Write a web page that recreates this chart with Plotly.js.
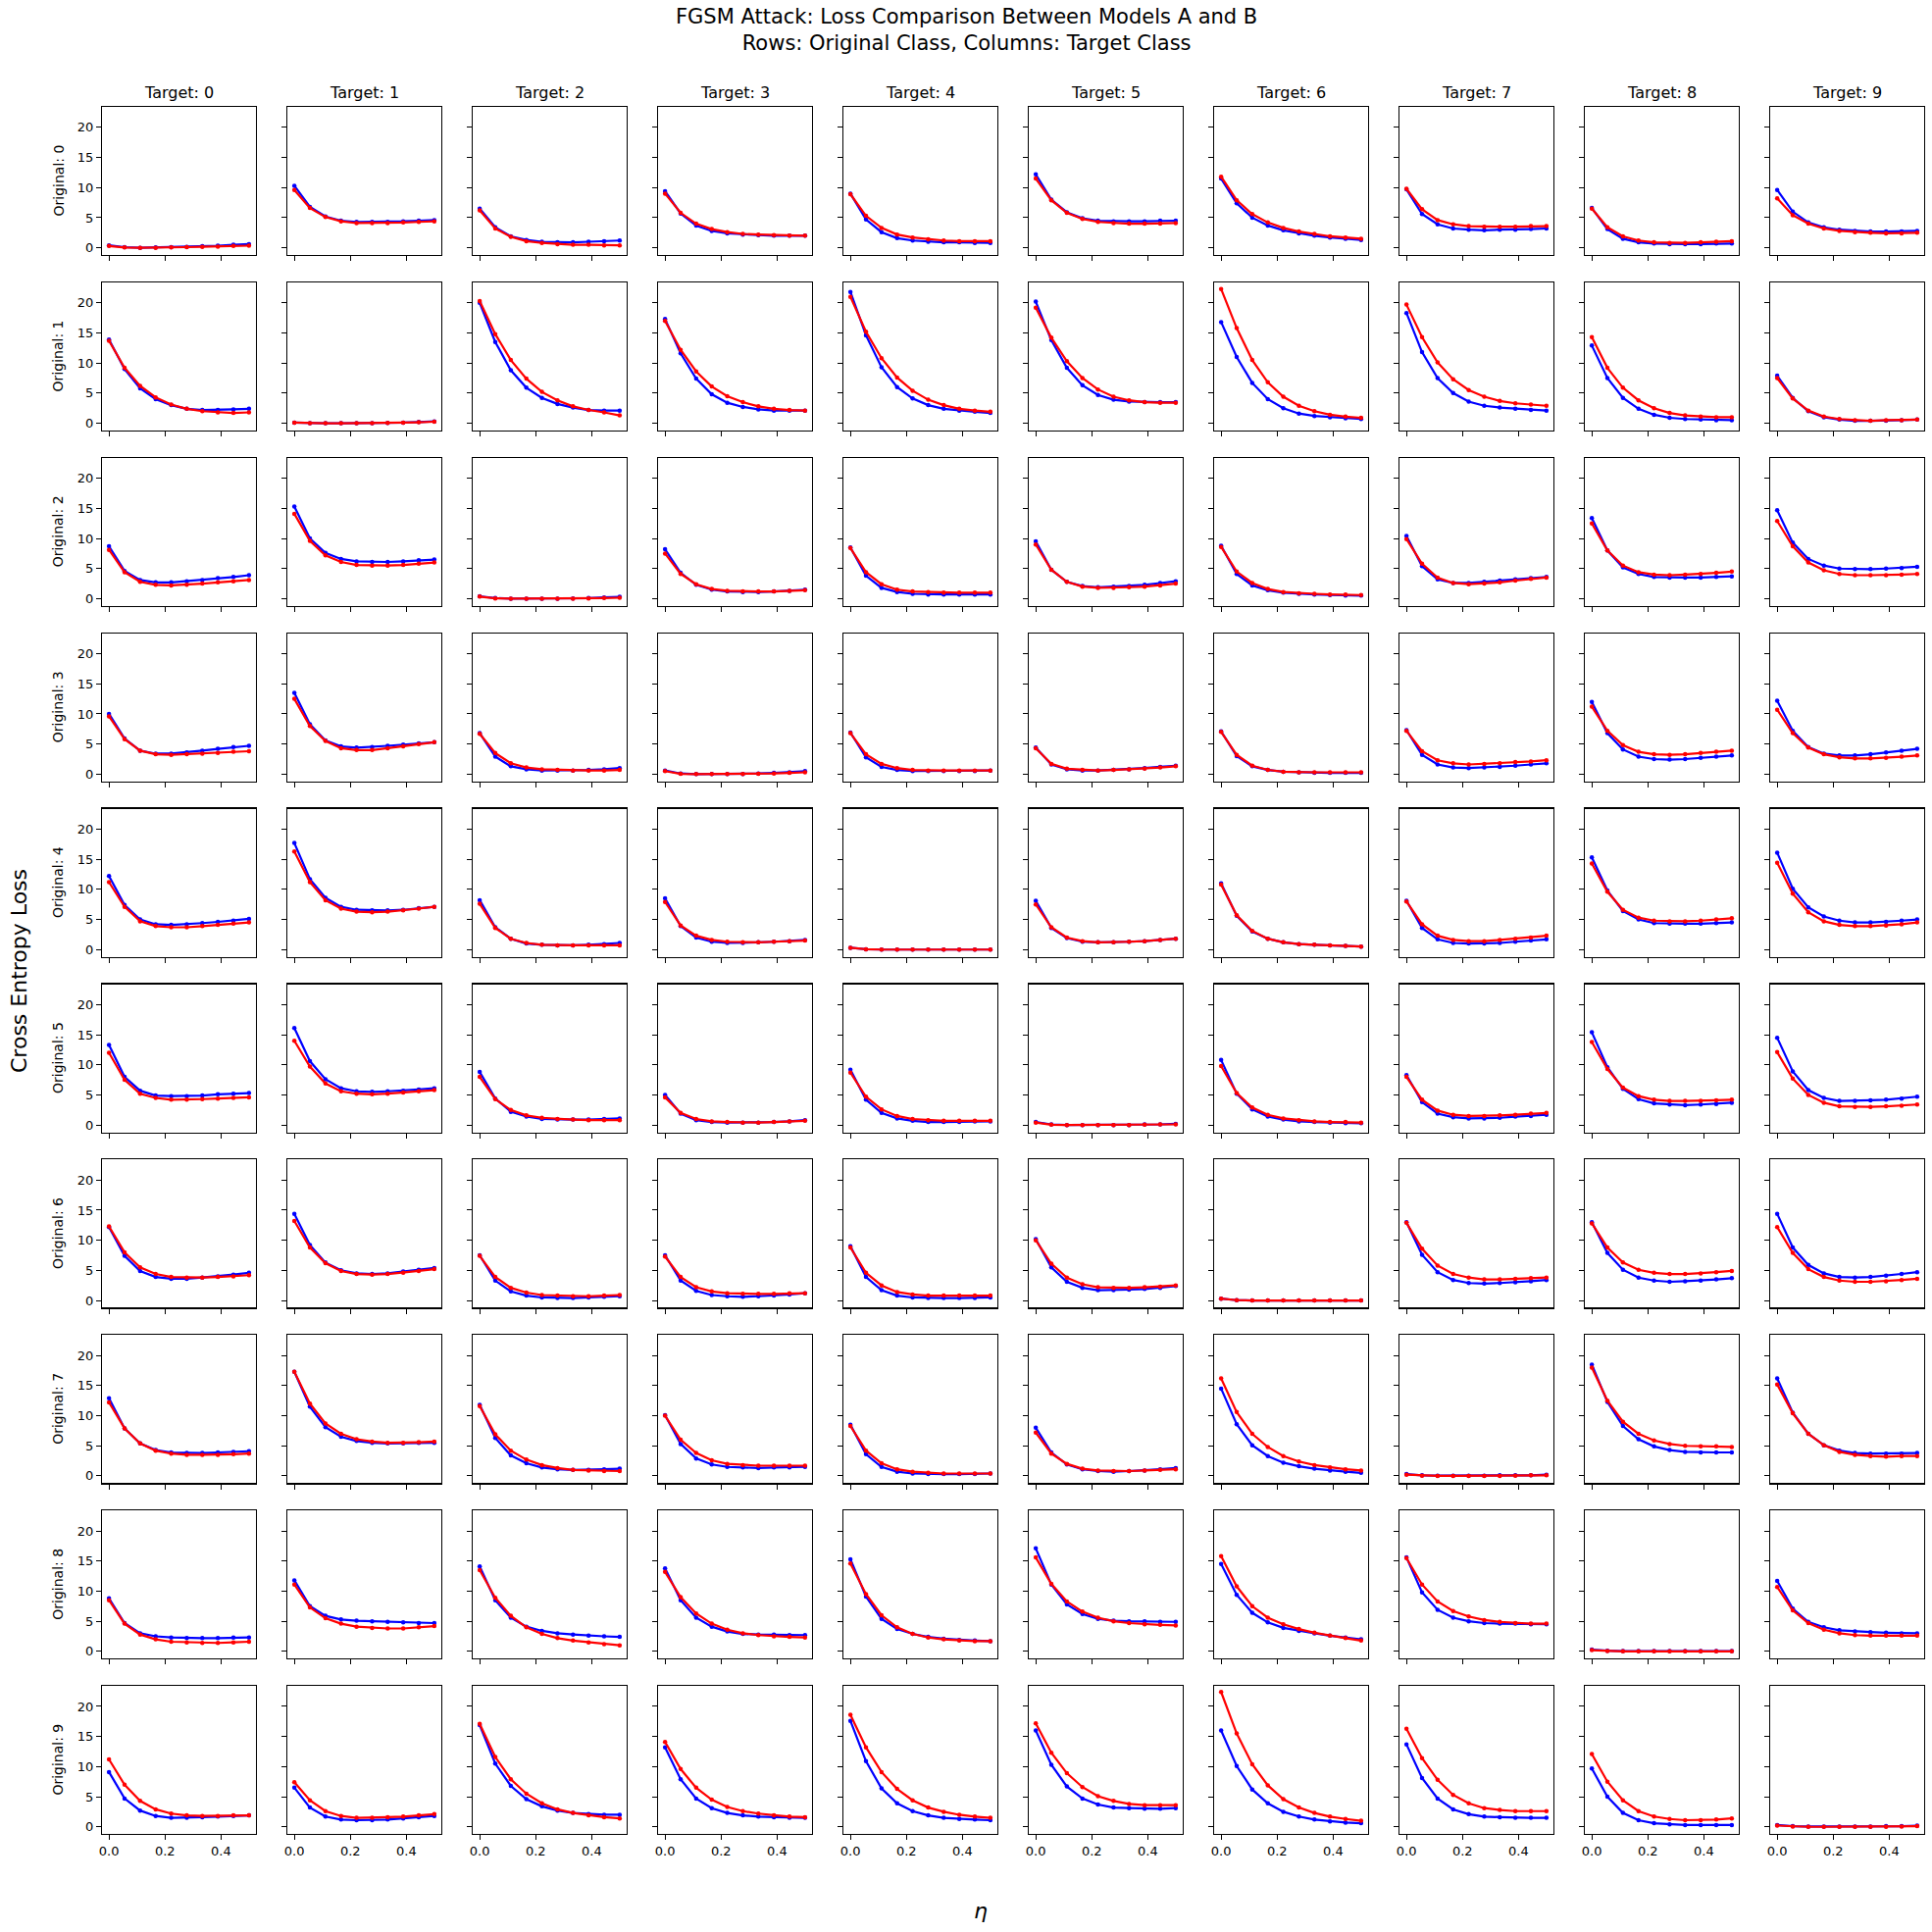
<!DOCTYPE html>
<html><head><meta charset="utf-8">
<script src="https://cdn.plot.ly/plotly-3.0.1.min.js"></script>
<style>body{margin:0;background:#fff}</style></head>
<body><div id="chart" style="width:1970px;height:1970px"></div>
<script>
const eta=[0,0.0556,0.1111,0.1667,0.2222,0.2778,0.3333,0.3889,0.4444,0.5];
const classes=[0,1,2,3,4,5,6,7,8,9];
// Model A (blue) losses, one array per original class, each with 10 target classes
const modelA_orig0=[[0.4,0.1,0,0.05,0.1,0.15,0.25,0.35,0.5,0.6],[10.3,6.8,5.2,4.5,4.3,4.3,4.3,4.4,4.5,4.6],[6.5,3.4,1.9,1.3,1.0,0.9,0.9,1.0,1.1,1.2],[9.4,5.7,3.7,2.8,2.4,2.2,2.1,2.0,2.0,2.0],[9.0,4.7,2.6,1.6,1.2,1.0,0.9,0.9,0.8,0.8],[12.2,8.0,5.9,4.9,4.5,4.4,4.4,4.4,4.5,4.5],[11.5,7.4,5.0,3.7,2.9,2.4,2.0,1.7,1.5,1.3],[9.7,5.6,3.9,3.2,3.0,2.9,3.0,3.0,3.1,3.2],[6.6,3.1,1.5,0.9,0.7,0.6,0.6,0.6,0.7,0.7],[9.6,6.0,4.2,3.4,3.0,2.8,2.7,2.7,2.7,2.8]];
const modelB_orig0=[[0.3,0.05,0,0,0.05,0.1,0.15,0.2,0.3,0.35],[9.6,6.6,5.1,4.4,4.1,4.1,4.1,4.2,4.3,4.4],[6.2,3.2,1.8,1.1,0.8,0.6,0.5,0.5,0.4,0.4],[9.0,5.8,4.0,3.1,2.6,2.3,2.2,2.1,2.0,2.0],[8.9,5.3,3.3,2.2,1.7,1.4,1.2,1.1,1.1,1.1],[11.5,7.9,5.8,4.8,4.3,4.1,4.0,4.0,4.0,4.1],[11.8,7.9,5.6,4.2,3.3,2.7,2.3,1.9,1.7,1.5],[9.8,6.4,4.6,3.9,3.6,3.5,3.5,3.5,3.6,3.6],[6.5,3.4,1.9,1.2,0.9,0.8,0.8,0.9,1.0,1.1],[8.2,5.4,4.0,3.2,2.8,2.6,2.5,2.4,2.4,2.5]];
const modelA_orig1=[[13.9,9.0,5.8,4.0,3.0,2.4,2.2,2.2,2.3,2.4],[0.1,0,0,0,0,0,0.05,0.1,0.2,0.3],[20.0,13.5,8.8,5.9,4.2,3.2,2.6,2.2,2.1,2.1],[17.3,11.6,7.4,4.8,3.4,2.7,2.3,2.1,2.1,2.1],[21.8,14.6,9.3,6.0,4.1,3.0,2.4,2.1,1.9,1.7],[20.2,13.8,9.2,6.3,4.7,3.9,3.6,3.5,3.5,3.5],[16.8,11.0,6.7,4.0,2.5,1.6,1.2,1.0,0.8,0.7],[18.3,11.8,7.5,5.0,3.6,2.9,2.6,2.4,2.2,2.1],[12.9,7.5,4.2,2.4,1.4,0.9,0.7,0.6,0.5,0.5],[7.9,4.2,2.0,1.0,0.6,0.4,0.4,0.4,0.5,0.6]];
const modelB_orig1=[[13.7,9.2,6.2,4.3,3.1,2.4,2.0,1.8,1.7,1.8],[0.1,0,0,0,0,0,0.05,0.1,0.15,0.25],[20.3,14.8,10.5,7.4,5.2,3.8,2.8,2.2,1.8,1.3],[17.0,12.2,8.6,6.1,4.5,3.5,2.8,2.4,2.2,2.1],[21.0,15.2,10.8,7.6,5.4,3.9,3.0,2.4,2.1,1.9],[19.2,14.2,10.3,7.5,5.6,4.4,3.8,3.5,3.4,3.4],[22.3,15.8,10.5,6.8,4.4,2.9,2.0,1.4,1.1,0.9],[19.7,14.3,10.1,7.3,5.5,4.4,3.7,3.3,3.1,2.9],[14.3,9.2,5.9,3.8,2.5,1.7,1.3,1.1,1.0,1.0],[7.5,4.1,2.1,1.1,0.7,0.5,0.4,0.5,0.5,0.6]];
const modelA_orig2=[[8.7,4.6,3.1,2.7,2.7,2.9,3.1,3.4,3.6,3.9],[15.3,10.0,7.6,6.6,6.2,6.1,6.1,6.2,6.4,6.5],[0.4,0.1,0,0,0,0,0.05,0.1,0.2,0.3],[8.2,4.3,2.3,1.5,1.2,1.1,1.1,1.2,1.3,1.5],[8.5,3.8,1.8,1.1,0.8,0.7,0.7,0.7,0.7,0.7],[9.5,4.8,2.8,2.1,1.9,2.0,2.1,2.3,2.6,2.9],[8.8,4.1,2.2,1.4,1.0,0.8,0.7,0.6,0.5,0.5],[10.4,5.4,3.2,2.6,2.6,2.8,3.0,3.2,3.4,3.6],[13.4,8.0,5.2,4.1,3.6,3.5,3.5,3.5,3.6,3.7],[14.7,9.3,6.6,5.5,5.0,4.9,4.9,5.0,5.1,5.3]];
const modelB_orig2=[[8.1,4.4,2.8,2.3,2.2,2.3,2.5,2.7,2.9,3.1],[14.1,9.6,7.2,6.1,5.6,5.5,5.5,5.6,5.8,6.0],[0.35,0.05,0,0,0,0,0,0.05,0.1,0.15],[7.5,4.1,2.4,1.6,1.3,1.2,1.2,1.2,1.3,1.4],[8.4,4.4,2.4,1.5,1.2,1.1,1.0,1.0,1.0,1.0],[9.0,4.8,2.8,2.0,1.8,1.8,1.9,2.0,2.2,2.5],[8.6,4.5,2.6,1.6,1.1,0.9,0.8,0.7,0.7,0.6],[9.9,5.8,3.5,2.6,2.4,2.5,2.7,3.0,3.3,3.5],[12.5,8.0,5.5,4.4,4.0,3.9,4.0,4.1,4.3,4.5],[12.9,8.7,6.0,4.7,4.1,3.9,3.9,3.9,4.0,4.1]];
const modelA_orig3=[[10.0,5.9,3.9,3.4,3.4,3.6,3.9,4.2,4.5,4.7],[13.5,8.3,5.6,4.6,4.4,4.5,4.7,4.9,5.1,5.3],[6.8,2.9,1.3,0.8,0.6,0.6,0.6,0.7,0.8,1.0],[0.6,0.1,0,0,0,0,0.1,0.2,0.3,0.5],[6.9,2.8,1.2,0.7,0.5,0.5,0.5,0.5,0.5,0.6],[4.4,1.6,0.8,0.6,0.6,0.7,0.8,1.0,1.2,1.4],[7.1,3.0,1.3,0.7,0.4,0.3,0.2,0.2,0.2,0.2],[7.3,3.2,1.6,1.1,1.0,1.1,1.2,1.4,1.6,1.8],[12.0,6.8,4.1,2.9,2.5,2.4,2.5,2.7,2.9,3.1],[12.2,7.2,4.5,3.4,3.1,3.1,3.3,3.6,3.9,4.2]];
const modelB_orig3=[[9.6,5.8,3.9,3.3,3.2,3.3,3.4,3.5,3.7,3.8],[12.5,8.0,5.5,4.3,4.0,4.0,4.3,4.6,5.0,5.3],[6.7,3.5,1.8,1.1,0.8,0.7,0.6,0.6,0.6,0.7],[0.5,0.05,0,0,0,0,0.05,0.1,0.2,0.3],[6.8,3.3,1.7,1.0,0.7,0.6,0.6,0.6,0.6,0.6],[4.3,1.7,0.9,0.7,0.6,0.7,0.8,0.9,1.1,1.3],[7.0,3.2,1.4,0.7,0.4,0.3,0.3,0.3,0.3,0.3],[7.2,3.8,2.3,1.8,1.6,1.7,1.8,2.0,2.1,2.3],[11.2,7.2,4.8,3.7,3.3,3.2,3.3,3.5,3.7,3.9],[10.7,6.8,4.4,3.3,2.8,2.6,2.6,2.7,2.9,3.1]];
const modelA_orig4=[[12.2,7.4,5.0,4.2,4.1,4.2,4.4,4.6,4.8,5.1],[17.7,11.7,8.6,7.1,6.6,6.5,6.5,6.6,6.9,7.1],[8.2,3.7,1.8,1.0,0.8,0.7,0.7,0.8,0.9,1.1],[8.5,3.9,2.0,1.3,1.1,1.1,1.2,1.3,1.4,1.6],[0.3,0.05,0,0,0,0,0,0,0,0],[8.1,3.6,1.9,1.3,1.2,1.2,1.3,1.4,1.6,1.8],[11.0,5.6,3.0,1.8,1.2,0.9,0.8,0.7,0.6,0.5],[8.1,3.6,1.7,1.1,1.0,1.0,1.1,1.3,1.5,1.7],[15.3,9.8,6.4,5.0,4.4,4.3,4.3,4.3,4.4,4.5],[16.1,10.1,7.0,5.5,4.8,4.5,4.5,4.6,4.8,5.0]];
const modelB_orig4=[[11.2,7.1,4.7,3.9,3.7,3.7,3.9,4.1,4.3,4.5],[16.3,11.2,8.2,6.8,6.3,6.2,6.3,6.5,6.8,7.1],[7.6,3.6,1.8,1.1,0.8,0.7,0.7,0.7,0.7,0.7],[7.9,4.0,2.3,1.6,1.3,1.2,1.2,1.3,1.4,1.5],[0.3,0.05,0,0,0,0,0,0,0,0],[7.5,3.7,2.0,1.4,1.2,1.2,1.3,1.4,1.6,1.8],[10.8,5.7,3.1,1.8,1.2,0.9,0.8,0.7,0.6,0.5],[8.0,4.2,2.3,1.6,1.4,1.4,1.6,1.8,2.0,2.3],[14.3,9.6,6.6,5.3,4.8,4.7,4.7,4.8,5.0,5.2],[14.4,9.3,6.2,4.7,4.1,3.9,3.9,4.0,4.2,4.5]];
const modelA_orig5=[[13.3,8.0,5.7,4.9,4.8,4.8,4.9,5.1,5.2,5.3],[16.1,10.6,7.6,6.1,5.6,5.5,5.6,5.7,5.9,6.1],[8.8,4.4,2.2,1.4,1.0,0.9,0.9,0.9,1.0,1.1],[5.0,1.9,0.8,0.5,0.4,0.4,0.4,0.5,0.6,0.8],[9.2,4.2,2.0,1.1,0.7,0.5,0.5,0.5,0.6,0.6],[0.5,0.1,0,0,0,0,0,0.1,0.1,0.2],[10.8,5.2,2.6,1.4,0.9,0.6,0.5,0.4,0.3,0.3],[8.3,3.8,1.9,1.3,1.1,1.1,1.2,1.4,1.5,1.7],[15.4,9.6,6.0,4.3,3.6,3.4,3.3,3.4,3.5,3.7],[14.5,8.9,5.8,4.5,4.0,4.0,4.1,4.2,4.4,4.7]];
const modelB_orig5=[[12.0,7.5,5.2,4.5,4.2,4.2,4.3,4.4,4.5,4.6],[14.0,9.7,6.9,5.6,5.2,5.1,5.2,5.4,5.6,5.8],[8.0,4.3,2.5,1.6,1.2,1.0,0.9,0.8,0.8,0.8],[4.6,2.0,1.0,0.6,0.5,0.4,0.4,0.5,0.6,0.7],[8.7,4.7,2.6,1.5,1.0,0.8,0.7,0.7,0.7,0.7],[0.4,0.05,0,0,0,0,0,0.05,0.1,0.1],[9.8,5.3,2.9,1.7,1.1,0.8,0.6,0.5,0.5,0.4],[8.0,4.2,2.4,1.7,1.5,1.5,1.6,1.7,1.9,2.0],[13.8,9.3,6.2,4.8,4.2,4.0,4.0,4.0,4.1,4.2],[12.1,7.7,5.0,3.7,3.1,3.0,3.0,3.1,3.2,3.4]];
const modelA_orig6=[[12.2,7.4,4.9,3.9,3.6,3.6,3.8,4.0,4.3,4.6],[14.4,9.2,6.3,5.0,4.5,4.4,4.5,4.8,5.1,5.4],[7.5,3.3,1.5,0.8,0.5,0.4,0.4,0.5,0.6,0.7],[7.5,3.3,1.6,0.9,0.7,0.6,0.7,0.8,1.0,1.2],[9.0,3.9,1.7,0.8,0.5,0.4,0.4,0.4,0.4,0.5],[10.2,5.5,3.1,2.1,1.7,1.7,1.8,1.9,2.1,2.4],[0.3,0.05,0,0,0,0,0,0,0,0],[13.0,7.6,4.7,3.4,2.9,2.8,2.9,3.0,3.2,3.4],[13.0,7.9,5.1,3.8,3.3,3.1,3.2,3.3,3.5,3.7],[14.4,8.8,5.9,4.5,3.9,3.8,3.9,4.1,4.4,4.7]];
const modelB_orig6=[[12.3,8.0,5.5,4.4,3.9,3.8,3.8,3.9,4.0,4.2],[13.2,8.8,6.2,4.9,4.4,4.3,4.4,4.6,4.9,5.2],[7.4,3.9,2.1,1.3,0.9,0.8,0.7,0.7,0.8,0.9],[7.3,3.9,2.2,1.5,1.2,1.1,1.1,1.1,1.2,1.2],[8.8,4.6,2.5,1.4,1.0,0.8,0.8,0.8,0.8,0.8],[10.0,6.1,3.8,2.7,2.2,2.1,2.1,2.2,2.3,2.5],[0.3,0.05,0,0,0,0,0,0,0,0],[12.9,8.6,5.8,4.4,3.8,3.5,3.5,3.6,3.7,3.8],[12.8,8.8,6.3,5.1,4.6,4.4,4.4,4.5,4.7,4.9],[12.2,7.9,5.2,3.9,3.3,3.1,3.1,3.2,3.4,3.6]];
const modelA_orig7=[[12.9,7.9,5.4,4.3,3.9,3.8,3.8,3.9,4.0,4.1],[17.3,11.5,8.1,6.5,5.8,5.5,5.4,5.4,5.5,5.5],[11.8,6.3,3.4,2.1,1.4,1.1,1.0,1.0,1.1,1.2],[10.1,5.3,2.9,1.9,1.5,1.4,1.3,1.4,1.4,1.5],[8.5,3.6,1.5,0.7,0.4,0.3,0.3,0.3,0.3,0.4],[8.0,3.9,1.9,1.1,0.8,0.7,0.8,0.9,1.1,1.3],[14.5,8.6,5.1,3.3,2.2,1.6,1.2,0.9,0.7,0.5],[0.3,0.1,0.05,0.05,0.05,0.05,0.1,0.1,0.1,0.2],[18.5,12.3,8.3,6.1,4.9,4.3,4.0,3.9,3.9,3.9],[16.2,10.5,7.0,5.1,4.2,3.8,3.7,3.7,3.7,3.8]];
const modelB_orig7=[[12.2,7.9,5.4,4.2,3.7,3.5,3.5,3.5,3.6,3.7],[17.3,12.0,8.7,7.0,6.1,5.7,5.5,5.5,5.6,5.7],[11.6,6.9,4.2,2.7,1.8,1.3,1.0,0.9,0.8,0.8],[10.0,6.0,3.8,2.6,2.0,1.8,1.7,1.7,1.7,1.7],[8.3,4.2,2.1,1.1,0.7,0.5,0.4,0.4,0.4,0.4],[7.2,3.7,2.0,1.2,0.9,0.8,0.8,0.9,1.0,1.1],[16.2,10.6,7.0,4.8,3.3,2.4,1.8,1.4,1.1,0.9],[0.2,0.05,0,0,0,0,0,0.05,0.1,0.1],[18.0,12.5,9.0,7.0,5.9,5.3,5.0,4.9,4.9,4.8],[15.2,10.4,7.0,5.1,4.0,3.5,3.3,3.2,3.3,3.3]];
const modelA_orig8=[[8.8,4.7,3.0,2.5,2.3,2.2,2.2,2.2,2.3,2.3],[11.8,7.5,5.9,5.3,5.1,5.0,4.9,4.8,4.7,4.7],[14.1,8.5,5.6,4.1,3.4,3.0,2.8,2.6,2.5,2.4],[13.8,8.5,5.6,4.1,3.3,2.9,2.8,2.8,2.7,2.7],[15.3,9.1,5.4,3.7,2.9,2.4,2.1,1.9,1.8,1.7],[17.1,11.1,7.8,6.2,5.4,5.1,5.0,5.0,4.9,4.9],[14.5,9.4,6.4,4.8,3.9,3.4,3.0,2.6,2.3,2.0],[15.6,9.8,6.9,5.6,5.0,4.7,4.6,4.6,4.5,4.5],[0.3,0.1,0.05,0.05,0.05,0.05,0.05,0.05,0.05,0.05],[11.7,7.1,4.9,4.0,3.5,3.3,3.2,3.1,3.0,3.0]];
const modelB_orig8=[[8.5,4.6,2.8,2.0,1.6,1.5,1.4,1.4,1.5,1.6],[11.1,7.3,5.5,4.6,4.1,3.9,3.8,3.8,4.0,4.2],[13.5,8.9,5.9,4.0,2.9,2.2,1.8,1.5,1.2,1.0],[13.2,9.0,6.3,4.6,3.6,3.0,2.7,2.5,2.4,2.3],[14.6,9.5,6.0,4.0,2.9,2.3,2.0,1.8,1.7,1.7],[15.6,11.2,8.3,6.6,5.6,5.0,4.7,4.5,4.4,4.3],[15.8,10.8,7.5,5.6,4.5,3.7,3.1,2.6,2.2,1.8],[15.5,11.1,8.3,6.7,5.8,5.2,4.9,4.7,4.6,4.6],[0.2,0.05,0,0,0,0,0,0,0,0],[10.7,6.8,4.7,3.6,3.0,2.7,2.6,2.6,2.6,2.6]];
const modelA_orig9=[[9.1,4.7,2.7,1.8,1.5,1.5,1.6,1.7,1.8,1.9],[6.5,3.2,1.7,1.2,1.1,1.1,1.2,1.4,1.6,1.8],[16.9,10.5,6.8,4.6,3.4,2.7,2.3,2.1,2.0,2.0],[13.2,7.9,4.7,3.1,2.3,1.9,1.7,1.6,1.5,1.5],[17.6,10.9,6.4,3.9,2.6,1.9,1.5,1.3,1.2,1.1],[16.0,10.3,6.7,4.7,3.7,3.2,3.1,3.0,3.0,3.1],[16.0,10.1,6.2,3.9,2.5,1.7,1.2,0.9,0.7,0.6],[13.7,8.1,4.7,2.9,2.1,1.7,1.6,1.5,1.5,1.5],[9.7,5.0,2.3,1.1,0.6,0.4,0.3,0.3,0.3,0.3],[0.3,0.1,0.05,0.05,0.05,0.05,0.05,0.1,0.1,0.2]];
const modelB_orig9=[[11.2,7.0,4.3,2.9,2.2,1.9,1.8,1.8,1.9,1.9],[7.4,4.4,2.6,1.8,1.5,1.5,1.6,1.7,1.9,2.1],[17.1,11.6,7.9,5.5,3.9,2.9,2.3,1.9,1.6,1.4],[14.1,9.6,6.5,4.5,3.3,2.6,2.2,1.9,1.7,1.6],[18.6,13.2,9.1,6.3,4.4,3.2,2.5,2.0,1.7,1.5],[17.2,12.3,8.9,6.6,5.1,4.3,3.8,3.6,3.6,3.6],[22.4,15.5,10.4,6.9,4.6,3.2,2.3,1.7,1.3,1.0],[16.3,11.4,7.8,5.3,3.9,3.1,2.8,2.6,2.6,2.6],[12.1,7.5,4.4,2.6,1.7,1.3,1.1,1.1,1.2,1.4],[0.2,0.05,0,0,0,0,0,0,0.05,0.1]];

const modelA=[modelA_orig0,modelA_orig1,modelA_orig2,modelA_orig3,modelA_orig4,modelA_orig5,modelA_orig6,modelA_orig7,modelA_orig8,modelA_orig9];
const modelB=[modelB_orig0,modelB_orig1,modelB_orig2,modelB_orig3,modelB_orig4,modelB_orig5,modelB_orig6,modelB_orig7,modelB_orig8,modelB_orig9];

const W=1970,H=1970;
const traces=[];
const layout={width:W,height:H,margin:{l:0,r:0,t:0,b:0},showlegend:false,
  paper_bgcolor:'#fff',plot_bgcolor:'#fff',font:{family:'DejaVu Sans',color:'#000',size:13},annotations:[]};
for(let r=0;r<10;r++){
  for(let c=0;c<10;c++){
    const i=r*10+c+1, s=i===1?'':String(i);
    const x0=(104+189*c)/W, x1=(261+189*c)/W;
    const yTop=109+178.9*r, yBot=260+178.9*r;
    layout['xaxis'+s]={domain:[x0,x1],anchor:'y'+s,range:[-0.025,0.525],tickvals:[0,0.2,0.4],
      ticktext:['0.0','0.2','0.4'],showticklabels:r===9,ticks:'outside',ticklen:5,tickcolor:'#000',
      showline:true,mirror:true,linecolor:'#000',linewidth:1.2,showgrid:false,zeroline:false,tickfont:{size:13}};
    layout['yaxis'+s]={domain:[1-yBot/H,1-yTop/H],anchor:'x'+s,range:[-1.2,23.4],tickvals:[0,5,10,15,20],
      showticklabels:c===0,ticks:'outside',ticklen:5,tickcolor:'#000',
      showline:true,mirror:true,linecolor:'#000',linewidth:1.2,showgrid:false,zeroline:false,tickfont:{size:13}};
    traces.push({x:eta,y:modelA[r][c],xaxis:'x'+s,yaxis:'y'+s,mode:'lines+markers',
      line:{color:'blue',width:2.2},marker:{color:'blue',size:4.5},hoverinfo:'skip'});
    traces.push({x:eta,y:modelB[r][c],xaxis:'x'+s,yaxis:'y'+s,mode:'lines+markers',
      line:{color:'red',width:2.2},marker:{color:'red',size:4.5},hoverinfo:'skip'});
  }
}
classes.forEach(c=>{
  layout.annotations.push({text:'Target: '+c,xref:'paper',yref:'paper',x:(182.5+189*c)/W,y:1-95/H,
    showarrow:false,font:{size:16},xanchor:'center',yanchor:'middle'});
});
classes.forEach(r=>{
  layout.annotations.push({text:'Original: '+r,xref:'paper',yref:'paper',x:59/W,y:1-(184.5+178.9*r)/H,
    showarrow:false,textangle:-90,font:{size:14},xanchor:'center',yanchor:'middle'});
});
layout.annotations.push({text:'FGSM Attack: Loss Comparison Between Models A and B<br>Rows: Original Class, Columns: Target Class',
  xref:'paper',yref:'paper',x:0.5,y:1-31/H,showarrow:false,font:{size:21},xanchor:'center',yanchor:'middle'});
layout.annotations.push({text:'Cross Entropy Loss',xref:'paper',yref:'paper',x:20/W,y:1-990/H,showarrow:false,
  textangle:-90,font:{size:22},xanchor:'center',yanchor:'middle'});
layout.annotations.push({text:'<i>η</i>',xref:'paper',yref:'paper',x:1000/W,y:1-1948/H,showarrow:false,
  font:{size:22},xanchor:'center',yanchor:'middle'});
Plotly.newPlot('chart',traces,layout,{staticPlot:true});
</script></body></html>
